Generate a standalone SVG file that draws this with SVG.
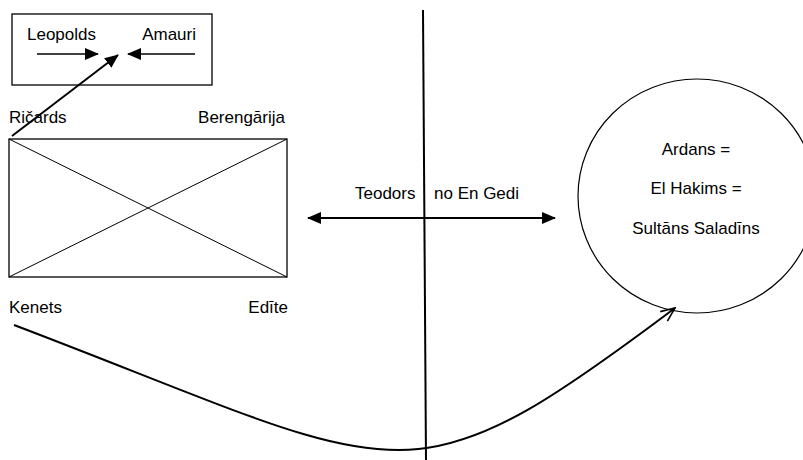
<svg xmlns="http://www.w3.org/2000/svg" width="803" height="460" viewBox="0 0 803 460">
<style>
text{font-family:"Liberation Sans",Arial,sans-serif;font-size:17px;fill:#000}
.ln{stroke:#000;fill:none}
</style>
<defs>
<marker id="ah" markerUnits="userSpaceOnUse" markerWidth="14" markerHeight="12" viewBox="0 0 14 12" refX="13" refY="6" orient="auto-start-reverse">
<path d="M0,0 L14,6 L0,12 z" fill="#000"/>
</marker>
<marker id="av" markerUnits="userSpaceOnUse" markerWidth="16" markerHeight="14" viewBox="0 0 16 14" refX="15" refY="7" orient="auto">
<path d="M1,1 L15,7 L1,13" fill="none" stroke="#000" stroke-width="1.6"/>
</marker>
</defs>
<rect width="803" height="460" fill="#fff"/>
<g id="allies">
<rect x="12" y="14" width="200" height="71" class="ln" stroke-width="1.3"/>
<text x="27" y="40">Leopolds</text>
<text x="196" y="40" text-anchor="end">Amauri</text>
</g>
<g id="family">
<text x="9" y="123">Ričards</text>
<text x="285" y="123" text-anchor="end">Berengārija</text>
<rect x="9" y="139" width="278" height="138" class="ln" stroke-width="1.3"/>
<line x1="9" y1="139" x2="287" y2="277" class="ln" stroke-width="1"/>
<line x1="287" y1="139" x2="9" y2="277" class="ln" stroke-width="1"/>
<text x="9" y="313">Kenets</text>
<text x="288" y="313" text-anchor="end">Edīte</text>
</g>
<g id="teodors">
<text x="355" y="199">Teodors</text>
<text x="434" y="199">no En Gedi</text>
</g>
<g id="saladin">
<ellipse cx="697" cy="196" rx="119" ry="117" class="ln" stroke-width="1.2"/>
<text x="696" y="155" text-anchor="middle">Ardans =</text>
<text x="696" y="194" text-anchor="middle">El Hakims =</text>
<text x="696" y="234" text-anchor="middle">Sultāns Saladīns</text>
</g>
<g id="connectors">
<line x1="37" y1="54" x2="98" y2="54" class="ln" stroke-width="1.5" marker-end="url(#ah)"/>
<line x1="195" y1="54" x2="128" y2="54" class="ln" stroke-width="1.5" marker-end="url(#ah)"/>
<line x1="12" y1="136" x2="118" y2="55" class="ln" stroke-width="2" marker-end="url(#ah)"/>
<line x1="423" y1="10" x2="426" y2="460" class="ln" stroke-width="2"/>
<line x1="308" y1="218" x2="555" y2="218" class="ln" stroke-width="2" marker-start="url(#ah)" marker-end="url(#ah)"/>
<path d="M14,325 C409,475 401,514 675,308" class="ln" stroke-width="2" marker-end="url(#av)"/>
</g>
</svg>
